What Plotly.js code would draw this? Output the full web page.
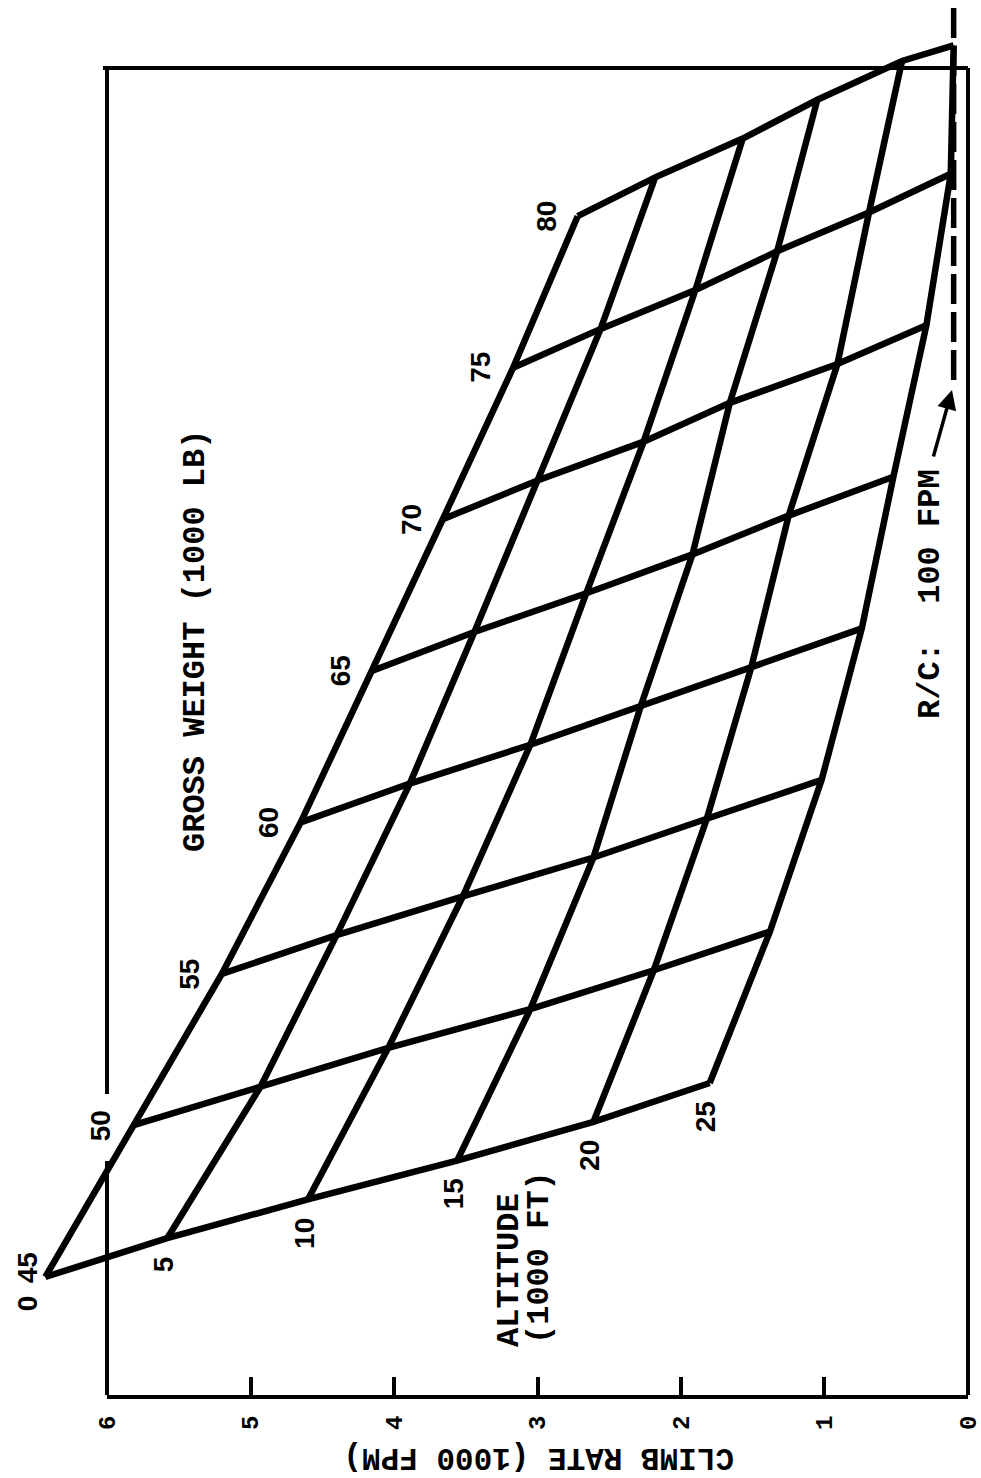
<!DOCTYPE html>
<html>
<head>
<meta charset="utf-8">
<script src="https://cdn.plot.ly/plotly-3.0.1.min.js"></script>
<style>
  html, body { margin: 0; padding: 0; background: #ffffff; }
  #chart { width: 981px; height: 1478px; }
</style>
</head>
<body>
<div id="chart"></div>
<script>
// Carpet grid: gross weight (1000 LB) by altitude (1000 FT)
const grossWeights = [45, 50, 55, 60, 65, 70, 75, 80];
const altitudes = [0, 5, 10, 15, 20, 25];
// Altitude reached at the upper end of each weight line (the heaviest one stops at the 100 FPM ceiling)
const topAltitude = [25, 25, 25, 25, 25, 25, 25, 22];

// Climb rate (1000 FPM) along each gross-weight line, at the altitudes above
const climbW45 = [6.43, 5.58, 4.60, 3.56, 2.61, 1.80];
const climbW50 = [5.82, 4.93, 4.04, 3.05, 2.19, 1.38];
const climbW55 = [5.20, 4.40, 3.52, 2.61, 1.82, 1.02];
const climbW60 = [4.65, 3.89, 3.05, 2.28, 1.51, 0.74];
const climbW65 = [4.15, 3.44, 2.66, 1.92, 1.25, 0.52];
const climbW70 = [3.66, 3.00, 2.26, 1.66, 0.91, 0.29];
const climbW75 = [3.17, 2.56, 1.90, 1.33, 0.69, 0.12];
const climbW80 = [2.72, 2.18, 1.57, 1.05, 0.46, 0.10];
const climbRates = [climbW45, climbW50, climbW55, climbW60, climbW65, climbW70, climbW75, climbW80];

// Climb-rate axis ticks and the service-ceiling reference rate
const climbTicks = [0, 1, 2, 3, 4, 5, 6];
const ceilingRate = 0.1; // R/C: 100 FPM

// Carpet "cheater" offset: each altitude step shifts a node along the weight direction
const altitudeSkew = 0.256;
function cheater(w, h) { return w + altitudeSkew * h; }
function nodeAltitude(i, j) { return j === altitudes.length - 1 ? topAltitude[i] : altitudes[j]; }

// ---- page geometry (pixels) ----
const W = 981, H = 1478;
const frame = { left: 107, right: 968, top: 68, bottom: 1395 };
const pxPerRate = (frame.right - frame.left) / 6;
const baseCheaterPx = 1277;   // vertical position of cheater value 45
const pxPerCheater = 30.31;

const xRange = [frame.right / pxPerRate, (frame.right - W) / pxPerRate];
const yRange = [45 - (H - baseCheaterPx) / pxPerCheater, 45 + baseCheaterPx / pxPerCheater];

const px = v => v / W;
const py = v => 1 - v / H;

const LINE = { color: '#000000', width: 6.5 };
const traces = [];

// constant gross-weight lines
grossWeights.forEach((w, i) => {
  traces.push({
    type: 'scatter', mode: 'lines', xaxis: 'x', yaxis: 'y',
    x: climbRates[i].slice(),
    y: altitudes.map((h, j) => cheater(w, nodeAltitude(i, j))),
    line: LINE, hoverinfo: 'skip', showlegend: false
  });
});

// constant altitude lines
altitudes.forEach((h, j) => {
  traces.push({
    type: 'scatter', mode: 'lines', xaxis: 'x', yaxis: 'y',
    x: climbRates.map(r => r[j]),
    y: grossWeights.map((w, i) => cheater(w, nodeAltitude(i, j))),
    line: LINE, hoverinfo: 'skip', showlegend: false
  });
});

// climb-rate frame axis (carries the ticks only)
traces.push({ type: 'scatter', mode: 'lines', xaxis: 'x2', yaxis: 'y2', x: [], y: [],
  hoverinfo: 'skip', showlegend: false });

const MONO = 'Liberation Mono, Courier New, monospace';
const SANS = 'Liberation Sans, Arial, sans-serif';

const annotations = [];
const label = (o) => Object.assign({ showarrow: false, xanchor: 'center', yanchor: 'middle' }, o);

// gross weight labels along the sea-level line
grossWeights.forEach((w, i) => {
  const first = i === 0;
  annotations.push(label({
    xref: 'x', yref: 'y', x: climbRates[i][0], y: cheater(w, 0),
    text: String(w), textangle: -90,
    xshift: first ? -18 : -32, yshift: first ? 9 : 0,
    font: { family: SANS, size: 28, color: '#000', weight: 'bold' }
  }));
});

// altitude labels along the lightest-weight line
altitudes.forEach((h, j) => {
  const t = String(h);
  const first = j === 0;
  annotations.push(label({
    xref: 'x', yref: 'y', x: climbW45[j], y: cheater(grossWeights[0], h),
    text: t, textangle: -90,
    xshift: first ? -18 : -4,
    yshift: first ? -26 : -(18 + 7.8 * t.length),
    font: { family: SANS, size: 28, color: '#000', weight: 'bold' }
  }));
});

const TYPE = { family: MONO, size: 32, color: '#000', weight: 'bold' };
annotations.push(
  label({ xref: 'paper', yref: 'paper', x: px(195), y: py(641), text: 'GROSS WEIGHT (1000 LB)',
    textangle: -90, font: TYPE }),
  label({ xref: 'paper', yref: 'paper', x: px(509), y: py(1270), text: 'ALTITUDE',
    textangle: -90, font: TYPE }),
  label({ xref: 'paper', yref: 'paper', x: px(539), y: py(1258), text: '(1000 FT)',
    textangle: -90, font: TYPE }),
  label({ xref: 'paper', yref: 'paper', x: px(930), y: py(594), text: 'R/C:&nbsp;&nbsp;100 FPM',
    textangle: -90, font: TYPE }),
  label({ xref: 'paper', yref: 'paper', x: px(539), y: py(1458), text: 'CLIMB RATE (1000 FPM)',
    textangle: 180, font: Object.assign({}, TYPE, { size: 31 }) }),
  // pointer from the R/C note to the reference line
  { xref: 'paper', yref: 'paper', x: px(952), y: py(390), text: '',
    showarrow: true, ax: -19, ay: 68, arrowhead: 2, arrowsize: 1.1, arrowwidth: 3.5,
    arrowcolor: '#000', standoff: 0 }
);

const FRAME = { color: '#000000', width: 4 };
const shapes = [
  // frame: top, right, and left (broken around the "50" label)
  { type: 'line', xref: 'paper', yref: 'paper', x0: px(frame.left - 4), x1: px(frame.right), y0: py(frame.top), y1: py(frame.top), line: FRAME },
  { type: 'line', xref: 'paper', yref: 'paper', x0: px(frame.right), x1: px(frame.right), y0: py(frame.top), y1: py(frame.bottom), line: FRAME },
  { type: 'line', xref: 'paper', yref: 'paper', x0: px(frame.left), x1: px(frame.left), y0: py(frame.top), y1: py(1094), line: FRAME },
  { type: 'line', xref: 'paper', yref: 'paper', x0: px(frame.left), x1: px(frame.left), y0: py(1161), y1: py(frame.bottom), line: FRAME },
  // R/C 100 FPM reference line
  { type: 'line', xref: 'x', yref: 'paper', x0: ceilingRate, x1: ceilingRate, y0: py(8), y1: py(388),
    line: { color: '#000000', width: 5.5, dash: '30px,8px' } }
];

const layout = {
  width: W, height: H,
  margin: { l: 0, r: 0, t: 0, b: 0, pad: 0 },
  paper_bgcolor: '#ffffff', plot_bgcolor: 'rgba(0,0,0,0)',
  showlegend: false,
  xaxis: { domain: [0, 1], range: xRange, visible: false, fixedrange: true },
  yaxis: { domain: [0, 1], range: yRange, visible: false, fixedrange: true },
  xaxis2: {
    domain: [px(frame.left), px(frame.right)], anchor: 'y2', range: [6.0005, -0.0005],
    tickmode: 'array', tickvals: climbTicks, ticktext: climbTicks.map(String),
    ticks: 'inside', ticklen: 18, tickwidth: 4, tickcolor: '#000',
    showline: true, linewidth: 4, linecolor: '#000',
    showgrid: false, zeroline: false, tickangle: -90, ticklabelstandoff: 7,
    ticklabeloverflow: 'allow',
    tickfont: { family: MONO, size: 24, color: '#000', weight: 'bold' }, fixedrange: true
  },
  yaxis2: {
    domain: [1 - frame.bottom / H, 1 - frame.top / H], anchor: 'x2', range: [0, 1],
    visible: false, fixedrange: true
  },
  shapes: shapes,
  annotations: annotations
};

Plotly.newPlot('chart', traces, layout, { staticPlot: true, displayModeBar: false });
</script>
</body>
</html>
